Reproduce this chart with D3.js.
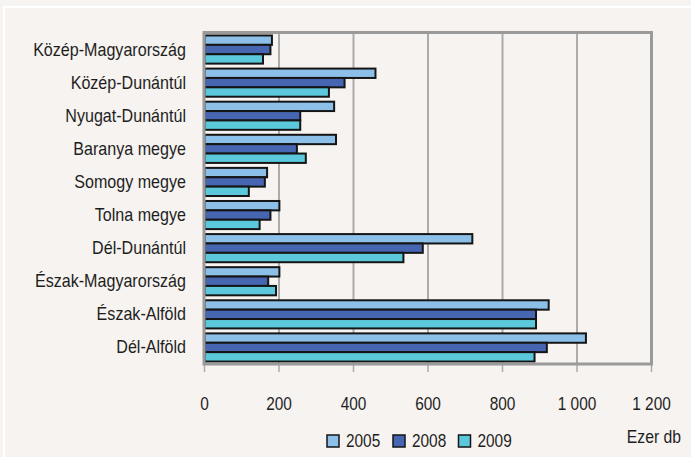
<!DOCTYPE html>
<html><head><meta charset="utf-8">
<script src="https://cdn.jsdelivr.net/npm/d3@7"></script>
<style>
html,body{margin:0;padding:0;background:#F6F3F0;}
svg{display:block;}
text{font-family:"Liberation Sans",Arial,sans-serif;fill:#1e1e1e;}
</style></head>
<body>
<script>
const categories = ["Közép-Magyarország","Közép-Dunántúl","Nyugat-Dunántúl","Baranya megye","Somogy megye","Tolna megye","Dél-Dunántúl","Észak-Magyarország","Észak-Alföld","Dél-Alföld"];
const seriesNames = ["2005","2008","2009"];
const values2005 = [181, 459, 348, 353, 168, 201, 719, 201, 924, 1024];
const values2008 = [177, 376, 257, 248, 162, 177, 586, 171, 890, 919];
const values2009 = [157, 334, 257, 272, 119, 148, 534, 192, 890, 886];
const tickValues = [0, 200, 400, 600, 800, 1000, 1200];
const tickLabels = ["0","200","400","600","800","1 000","1 200"];
const unitLabel = "Ezer db";
const colors = ["#8DC0E8", "#4766B1", "#5BC9DB"];

const W = 691, H = 457;
const svg = d3.select("body").append("svg").attr("width", W).attr("height", H);
svg.append("rect").attr("width", W).attr("height", H).attr("fill", "#F6F3F0");
svg.append("rect").attr("x", 4).attr("y", 7).attr("width", W + 10).attr("height", H + 10)
  .attr("fill", "none").attr("stroke", "#ffffff").attr("stroke-width", 2);

const x = d3.scaleLinear().domain([0, 1200]).range([204.5, 651.5]);
const y = d3.scaleBand().domain(categories).range([33, 364]).paddingInner(0.15).paddingOuter(0.075);
const ySub = d3.scaleBand().domain(seriesNames).range([0, y.bandwidth()]).padding(0);

const seriesVals = [values2005, values2008, values2009];
const rows = categories.map((c, i) => ({cat: c, vals: seriesNames.map((s, j) => ({s, j, v: seriesVals[j][i]}))}));

// gridlines
svg.append("g").selectAll("line").data(tickValues.slice(1, -1)).join("line")
  .attr("x1", d => x(d)).attr("x2", d => x(d)).attr("y1", 33).attr("y2", 364)
  .attr("stroke", "#ababab").attr("stroke-width", 2);

// tick marks
svg.append("g").selectAll("line").data(tickValues).join("line")
  .attr("x1", d => x(d)).attr("x2", d => x(d)).attr("y1", 364).attr("y2", 372)
  .attr("stroke", "#ababab").attr("stroke-width", 1.5);

// bars
const g = svg.append("g").selectAll("g").data(rows).join("g")
  .attr("transform", d => `translate(0,${y(d.cat)})`);
g.selectAll("rect").data(d => d.vals).join("rect")
  .attr("x", x(0))
  .attr("y", d => ySub(d.s))
  .attr("width", d => x(d.v) - x(0))
  .attr("height", ySub.bandwidth())
  .attr("fill", d => colors[d.j])
  .attr("stroke", "#151515").attr("stroke-width", 2);

// frame
svg.append("rect").attr("x", x(0) - 0.5).attr("y", 32.5).attr("width", x(1200) - x(0) + 0.5).attr("height", 364 - 32.5)
  .attr("fill", "none").attr("stroke", "#9a9a9a").attr("stroke-width", 3);

function txt(parent, str, tx, ty, anchor, sx) {
  return parent.append("text").attr("transform", `translate(${tx},${ty}) scale(${sx},1)`)
    .attr("text-anchor", anchor).attr("font-size", "17.5px").text(str);
}

// category labels
const lab = svg.append("g");
categories.forEach(c => txt(lab, c, 186, y(c) + y.bandwidth() / 2 + 6, "end", 0.92));

// tick labels
const tl = svg.append("g");
tickValues.forEach((t, i) => txt(tl, tickLabels[i], x(t), 410, "middle", 0.88));

// unit label
txt(svg, unitLabel, 681, 442.5, "end", 0.9);

// legend
const lg = svg.append("g");
const legX = [327, 393, 458.5];
seriesNames.forEach((s, i) => {
  lg.append("rect").attr("x", legX[i]).attr("y", 435).attr("width", 12).attr("height", 12)
    .attr("fill", colors[i]).attr("stroke", "#151515").attr("stroke-width", 1.5);
  txt(lg, s, legX[i] + 19, 447, "start", 0.88);
});
</script>
</body></html>
